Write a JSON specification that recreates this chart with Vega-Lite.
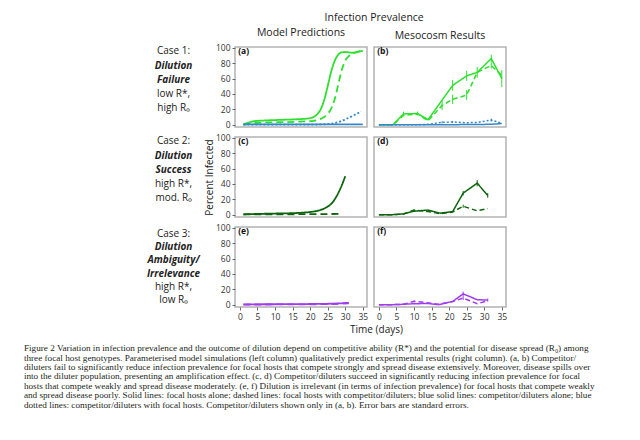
{
"$schema": "https://vega.github.io/schema/vega-lite/v6.json",
"padding": {"left": 23, "right": 5, "top": 13, "bottom": 5},
"background": "white",
"config": {
  "font": "Open Sans",
  "view": {"stroke": "#b3b3b3", "strokeWidth": 1.5},
  "axis": {"domain": false, "grid": false, "tickSize": 3, "tickColor": "#666", "labelColor": "#333", "labelFontSize": 8.5, "labelFont": "Open Sans", "titleFont": "Open Sans", "titleFontWeight": "normal", "titleFontSize": 10, "titleColor": "#222", "labelPadding": 2, "labelOverlap": false, "labelFlush": false},
  "title": {"font": "Open Sans", "fontSize": 10.5, "fontWeight": "normal", "color": "#222", "offset": 5}
},
"title": {
  "text": [
    "Figure 2 Variation in infection prevalence and the outcome of dilution depend on competitive ability (R*) and the potential for disease spread (R₀) among",
    "three focal host genotypes. Parameterised model simulations (left column) qualitatively predict experimental results (right column). (a, b) Competitor/",
    "diluters fail to significantly reduce infection prevalence for focal hosts that compete strongly and spread disease extensively. Moreover, disease spills over",
    "into the diluter population, presenting an amplification effect. (c, d) Competitor/diluters succeed in significantly reducing infection prevalence for focal",
    "hosts that compete weakly and spread disease moderately. (e, f) Dilution is irrelevant (in terms of infection prevalence) for focal hosts that compete weakly",
    "and spread disease poorly. Solid lines: focal hosts alone; dashed lines: focal hosts with competitor/diluters; blue solid lines: competitor/diluters alone; blue",
    "dotted lines: competitor/diluters with focal hosts. Competitor/diluters shown only in (a, b). Error bars are standard errors."
  ],
  "orient": "bottom", "anchor": "start", "dx": -123, "offset": 9,
  "font": "Liberation Serif", "fontSize": 9.2, "lineHeight": 9.4, "fontWeight": "normal", "color": "#231f20"
},
"datasets": {
  "cases": [
    {"case": 1, "line": 1, "text": "Case 1:", "kind": "case"},
    {"case": 1, "line": 2, "text": "Dilution", "kind": "name"},
    {"case": 1, "line": 3, "text": "Failure", "kind": "name"},
    {"case": 1, "line": 4, "text": "low R*,", "kind": "params"},
    {"case": 1, "line": 5, "text": "high R₀", "kind": "params"},
    {"case": 1, "line": 6, "text": "", "kind": "params"},
    {"case": 2, "line": 1, "text": "Case 2:", "kind": "case"},
    {"case": 2, "line": 2, "text": "Dilution", "kind": "name"},
    {"case": 2, "line": 3, "text": "Success", "kind": "name"},
    {"case": 2, "line": 4, "text": "high R*,", "kind": "params"},
    {"case": 2, "line": 5, "text": "mod. R₀", "kind": "params"},
    {"case": 2, "line": 6, "text": "", "kind": "params"},
    {"case": 3, "line": 1, "text": "Case 3:", "kind": "case"},
    {"case": 3, "line": 2, "text": "Dilution", "kind": "name"},
    {"case": 3, "line": 3, "text": "Ambiguity/", "kind": "name"},
    {"case": 3, "line": 4, "text": "Irrelevance", "kind": "name"},
    {"case": 3, "line": 5, "text": "high R*,", "kind": "params"},
    {"case": 3, "line": 6, "text": "low R₀", "kind": "params"}
  ],
  "a": [
    {"series": "focal alone", "t": 1, "y": 0.5}, {"series": "focal alone", "t": 2, "y": 2}, {"series": "focal alone", "t": 3, "y": 3.5}, {"series": "focal alone", "t": 4, "y": 4.5}, {"series": "focal alone", "t": 5, "y": 5}, {"series": "focal alone", "t": 7, "y": 5.5}, {"series": "focal alone", "t": 10, "y": 6}, {"series": "focal alone", "t": 13, "y": 6.5}, {"series": "focal alone", "t": 16, "y": 7}, {"series": "focal alone", "t": 18, "y": 7.5}, {"series": "focal alone", "t": 20, "y": 8.5}, {"series": "focal alone", "t": 21, "y": 10}, {"series": "focal alone", "t": 22, "y": 13.5}, {"series": "focal alone", "t": 23, "y": 20}, {"series": "focal alone", "t": 24, "y": 32}, {"series": "focal alone", "t": 25, "y": 50}, {"series": "focal alone", "t": 26, "y": 69}, {"series": "focal alone", "t": 27, "y": 83}, {"series": "focal alone", "t": 28, "y": 91}, {"series": "focal alone", "t": 29, "y": 94}, {"series": "focal alone", "t": 30, "y": 94.5}, {"series": "focal alone", "t": 31, "y": 94}, {"series": "focal alone", "t": 32, "y": 93.5}, {"series": "focal alone", "t": 33, "y": 94}, {"series": "focal alone", "t": 34, "y": 95}, {"series": "focal alone", "t": 35, "y": 96},
    {"series": "focal with competitors", "t": 1, "y": 0.2}, {"series": "focal with competitors", "t": 3, "y": 1.5}, {"series": "focal with competitors", "t": 5, "y": 2.5}, {"series": "focal with competitors", "t": 8, "y": 3}, {"series": "focal with competitors", "t": 12, "y": 3.3}, {"series": "focal with competitors", "t": 16, "y": 3.8}, {"series": "focal with competitors", "t": 19, "y": 4.3}, {"series": "focal with competitors", "t": 21, "y": 5}, {"series": "focal with competitors", "t": 22, "y": 6}, {"series": "focal with competitors", "t": 23, "y": 7.5}, {"series": "focal with competitors", "t": 24, "y": 10}, {"series": "focal with competitors", "t": 25, "y": 14}, {"series": "focal with competitors", "t": 26, "y": 21}, {"series": "focal with competitors", "t": 27, "y": 33}, {"series": "focal with competitors", "t": 28, "y": 52}, {"series": "focal with competitors", "t": 29, "y": 71}, {"series": "focal with competitors", "t": 30, "y": 83}, {"series": "focal with competitors", "t": 31, "y": 89}, {"series": "focal with competitors", "t": 32, "y": 92}, {"series": "focal with competitors", "t": 33, "y": 94}, {"series": "focal with competitors", "t": 34, "y": 95.5}, {"series": "focal with competitors", "t": 35, "y": 97},
    {"series": "competitor alone", "t": 1, "y": 0.5}, {"series": "competitor alone", "t": 10, "y": 0.5}, {"series": "competitor alone", "t": 20, "y": 0.5}, {"series": "competitor alone", "t": 30, "y": 0.5}, {"series": "competitor alone", "t": 35, "y": 0.5},
    {"series": "competitor with focal", "t": 1, "y": 0}, {"series": "competitor with focal", "t": 10, "y": 0}, {"series": "competitor with focal", "t": 20, "y": 0}, {"series": "competitor with focal", "t": 23, "y": 0.3}, {"series": "competitor with focal", "t": 25, "y": 0.8}, {"series": "competitor with focal", "t": 27, "y": 2}, {"series": "competitor with focal", "t": 29, "y": 5}, {"series": "competitor with focal", "t": 31, "y": 9}, {"series": "competitor with focal", "t": 33, "y": 13.5}, {"series": "competitor with focal", "t": 34.5, "y": 17}
  ],
  "b": [
    {"series": "focal alone", "t": 0, "y": 0}, {"series": "focal alone", "t": 4, "y": 0}, {"series": "focal alone", "t": 7, "y": 14}, {"series": "focal alone", "t": 11, "y": 14.5}, {"series": "focal alone", "t": 14, "y": 6.5}, {"series": "focal alone", "t": 21, "y": 51}, {"series": "focal alone", "t": 25, "y": 63.5}, {"series": "focal alone", "t": 28, "y": 68}, {"series": "focal alone", "t": 32, "y": 86}, {"series": "focal alone", "t": 35, "y": 60},
    {"series": "focal with competitors", "t": 0, "y": 0}, {"series": "focal with competitors", "t": 4, "y": 0}, {"series": "focal with competitors", "t": 7, "y": 12}, {"series": "focal with competitors", "t": 11, "y": 14}, {"series": "focal with competitors", "t": 14, "y": 5}, {"series": "focal with competitors", "t": 18, "y": 25}, {"series": "focal with competitors", "t": 21, "y": 33}, {"series": "focal with competitors", "t": 25, "y": 38.5}, {"series": "focal with competitors", "t": 28, "y": 68}, {"series": "focal with competitors", "t": 32, "y": 77}, {"series": "focal with competitors", "t": 35, "y": 64},
    {"series": "competitor alone", "t": 0, "y": 0}, {"series": "competitor alone", "t": 14, "y": 0}, {"series": "competitor alone", "t": 21, "y": 0}, {"series": "competitor alone", "t": 28, "y": 0.3}, {"series": "competitor alone", "t": 32, "y": 0.5}, {"series": "competitor alone", "t": 35, "y": 1.5},
    {"series": "competitor with focal", "t": 0, "y": 0}, {"series": "competitor with focal", "t": 4, "y": 0}, {"series": "competitor with focal", "t": 7, "y": 0}, {"series": "competitor with focal", "t": 11, "y": 0}, {"series": "competitor with focal", "t": 14, "y": 0.5}, {"series": "competitor with focal", "t": 18, "y": 3}, {"series": "competitor with focal", "t": 21, "y": 3.5}, {"series": "competitor with focal", "t": 25, "y": 2.5}, {"series": "competitor with focal", "t": 28, "y": 3}, {"series": "competitor with focal", "t": 32, "y": 6}, {"series": "competitor with focal", "t": 35, "y": 2}
  ],
  "b_err": [
    {"series": "focal alone", "t": 7, "lo": 11, "hi": 17}, {"series": "focal alone", "t": 11, "lo": 12, "hi": 17}, {"series": "focal alone", "t": 21, "lo": 44, "hi": 58}, {"series": "focal alone", "t": 25, "lo": 57, "hi": 70}, {"series": "focal alone", "t": 28, "lo": 61, "hi": 75}, {"series": "focal alone", "t": 32, "lo": 81, "hi": 91}, {"series": "focal alone", "t": 35, "lo": 49, "hi": 71},
    {"series": "focal with competitors", "t": 18, "lo": 19, "hi": 31}, {"series": "focal with competitors", "t": 21, "lo": 27, "hi": 39}, {"series": "focal with competitors", "t": 25, "lo": 32, "hi": 45}, {"series": "focal with competitors", "t": 32, "lo": 73, "hi": 81},
    {"series": "competitor with focal", "t": 18, "lo": 1.5, "hi": 4.5}, {"series": "competitor with focal", "t": 21, "lo": 2, "hi": 5}, {"series": "competitor with focal", "t": 32, "lo": 4, "hi": 8}
  ],
  "c": [
    {"series": "focal alone", "t": 1, "y": 0.5}, {"series": "focal alone", "t": 5, "y": 1}, {"series": "focal alone", "t": 10, "y": 1.5}, {"series": "focal alone", "t": 15, "y": 2}, {"series": "focal alone", "t": 18, "y": 2.7}, {"series": "focal alone", "t": 20, "y": 3.5}, {"series": "focal alone", "t": 22, "y": 5}, {"series": "focal alone", "t": 23, "y": 6.3}, {"series": "focal alone", "t": 24, "y": 8}, {"series": "focal alone", "t": 25, "y": 10.5}, {"series": "focal alone", "t": 26, "y": 14}, {"series": "focal alone", "t": 27, "y": 20}, {"series": "focal alone", "t": 28, "y": 28}, {"series": "focal alone", "t": 29, "y": 38}, {"series": "focal alone", "t": 30, "y": 50},
    {"series": "focal with competitors", "t": 1, "y": 0.3}, {"series": "focal with competitors", "t": 10, "y": 0.5}, {"series": "focal with competitors", "t": 20, "y": 0.7}, {"series": "focal with competitors", "t": 29, "y": 1}
  ],
  "d": [
    {"series": "focal alone", "t": 0, "y": 0}, {"series": "focal alone", "t": 4, "y": 0}, {"series": "focal alone", "t": 7, "y": 1}, {"series": "focal alone", "t": 10, "y": 4.5}, {"series": "focal alone", "t": 14, "y": 6}, {"series": "focal alone", "t": 17.5, "y": 2}, {"series": "focal alone", "t": 21, "y": 4}, {"series": "focal alone", "t": 24, "y": 28}, {"series": "focal alone", "t": 28, "y": 41}, {"series": "focal alone", "t": 31, "y": 25},
    {"series": "focal with competitors", "t": 0, "y": 0}, {"series": "focal with competitors", "t": 4, "y": 0}, {"series": "focal with competitors", "t": 7, "y": 1}, {"series": "focal with competitors", "t": 10, "y": 6}, {"series": "focal with competitors", "t": 14, "y": 4}, {"series": "focal with competitors", "t": 17.5, "y": 1.3}, {"series": "focal with competitors", "t": 21, "y": 3.5}, {"series": "focal with competitors", "t": 24, "y": 11}, {"series": "focal with competitors", "t": 28, "y": 5}, {"series": "focal with competitors", "t": 31, "y": 8}
  ],
  "d_err": [
    {"series": "focal alone", "t": 24, "lo": 25, "hi": 31}, {"series": "focal alone", "t": 28, "lo": 37, "hi": 45}, {"series": "focal alone", "t": 31, "lo": 22, "hi": 28},
    {"series": "focal with competitors", "t": 24, "lo": 9, "hi": 13}
  ],
  "e": [
    {"series": "focal alone", "t": 1, "y": 0.5}, {"series": "focal alone", "t": 10, "y": 0.6}, {"series": "focal alone", "t": 20, "y": 0.9}, {"series": "focal alone", "t": 25, "y": 1.2}, {"series": "focal alone", "t": 28, "y": 1.6}, {"series": "focal alone", "t": 31, "y": 2.5},
    {"series": "focal with competitors", "t": 1, "y": 0.2}, {"series": "focal with competitors", "t": 10, "y": 0.3}, {"series": "focal with competitors", "t": 20, "y": 0.5}, {"series": "focal with competitors", "t": 25, "y": 0.8}, {"series": "focal with competitors", "t": 28, "y": 1.2}, {"series": "focal with competitors", "t": 31, "y": 1.8}
  ],
  "f": [
    {"series": "focal alone", "t": 0, "y": 0}, {"series": "focal alone", "t": 4, "y": 0}, {"series": "focal alone", "t": 7, "y": 0.5}, {"series": "focal alone", "t": 10, "y": 1.3}, {"series": "focal alone", "t": 14, "y": 1.5}, {"series": "focal alone", "t": 17, "y": 0}, {"series": "focal alone", "t": 21, "y": 4.3}, {"series": "focal alone", "t": 24, "y": 14}, {"series": "focal alone", "t": 28, "y": 6.5}, {"series": "focal alone", "t": 31, "y": 6},
    {"series": "focal with competitors", "t": 0, "y": 0}, {"series": "focal with competitors", "t": 4, "y": 0}, {"series": "focal with competitors", "t": 7, "y": 0.5}, {"series": "focal with competitors", "t": 10, "y": 4.3}, {"series": "focal with competitors", "t": 13, "y": 3}, {"series": "focal with competitors", "t": 17, "y": 0.5}, {"series": "focal with competitors", "t": 21, "y": 4}, {"series": "focal with competitors", "t": 24, "y": 8.6}, {"series": "focal with competitors", "t": 28, "y": 1.3}, {"series": "focal with competitors", "t": 31, "y": 5}
  ],
  "f_err": [
    {"series": "focal alone", "t": 24, "lo": 11, "hi": 17}, {"series": "focal alone", "t": 31, "lo": 4, "hi": 8},
    {"series": "focal with competitors", "t": 10, "lo": 3, "hi": 6}, {"series": "focal with competitors", "t": 24, "lo": 6, "hi": 11}
  ]
},
"vconcat": [
{
  "title": {"text": "Infection Prevalence", "anchor": "middle", "dx": 47, "offset": 4},
  "columns": 3,
  "bounds": "flush",
  "spacing": {"row": 10, "column": 7},
  "resolve": {"scale": {"color": "independent", "strokeDash": "independent"}},
  "concat": [
    {
      "width": 77, "height": 80, "view": {"stroke": null},
      "data": {"name": "cases"},
      "transform": [{"filter": "datum.case == 1"}],
      "layer": [
        {"transform": [{"filter": "datum.kind != 'name'"}], "mark": {"type": "text", "dx": -16, "fontSize": 10, "font": "Open Sans", "color": "#222", "baseline": "middle"},
         "encoding": {"y": {"field": "line", "type": "ordinal", "scale": {"type": "point", "padding": 0.3}, "axis": null}, "text": {"field": "text"}}},
        {"transform": [{"filter": "datum.kind == 'name'"}], "mark": {"type": "text", "dx": -16, "fontSize": 10, "font": "Open Sans", "fontWeight": "bold", "fontStyle": "italic", "color": "#222", "baseline": "middle"},
         "encoding": {"y": {"field": "line", "type": "ordinal", "scale": {"type": "point", "padding": 0.3}, "axis": null}, "text": {"field": "text"}}}
      ]
    },
    {
      "width": 132, "height": 80,
      "title": "Model Predictions",
      "layer": [
        {"data": {"name": "a"}, "mark": {"type": "line", "interpolate": "monotone", "strokeWidth": 1.8},
         "encoding": {
           "x": {"field": "t", "type": "quantitative", "scale": {"domain": [-1.4, 36.2], "nice": false, "zero": false}, "axis": null},
           "y": {"field": "y", "type": "quantitative", "scale": {"domain": [-3, 101], "nice": false}, "axis": {"values": [0, 20, 40, 60, 80, 100], "title": null}},
           "color": {"field": "series", "type": "nominal", "scale": {"domain": ["focal alone", "focal with competitors", "competitor alone", "competitor with focal"], "range": ["#2ee02e", "#2ee02e", "#3388cc", "#3388cc"]}, "legend": null},
           "strokeDash": {"field": "series", "type": "nominal", "scale": {"domain": ["focal alone", "focal with competitors", "competitor alone", "competitor with focal"], "range": [[1, 0], [7, 4], [1, 0], [2, 2]]}, "legend": null}
         }},
        {"data": {"values": [{}]}, "mark": {"type": "text", "text": "(a)", "align": "left", "baseline": "middle", "fontWeight": "bold", "fontSize": 8.5, "color": "#111"},
         "encoding": {"x": {"datum": -0.5, "axis": null}, "y": {"datum": 96, "axis": {"values": [0, 20, 40, 60, 80, 100], "title": null}}}}
      ]
    },
    {
      "width": 132, "height": 80,
      "title": "Mesocosm Results",
      "layer": [
        {"data": {"name": "b"}, "mark": {"type": "line", "strokeWidth": 1.5},
         "encoding": {
           "x": {"field": "t", "type": "quantitative", "scale": {"domain": [-1.4, 36.2], "nice": false, "zero": false}, "axis": null},
           "y": {"field": "y", "type": "quantitative", "scale": {"domain": [-3, 101], "nice": false}, "axis": null},
           "color": {"field": "series", "type": "nominal", "scale": {"domain": ["focal alone", "focal with competitors", "competitor alone", "competitor with focal"], "range": ["#2ee02e", "#2ee02e", "#3388cc", "#3388cc"]}, "legend": null},
           "strokeDash": {"field": "series", "type": "nominal", "scale": {"domain": ["focal alone", "focal with competitors", "competitor alone", "competitor with focal"], "range": [[1, 0], [5, 3], [1, 0], [2, 2]]}, "legend": null}
         }},
        {"data": {"name": "b_err"}, "mark": {"type": "rule", "strokeWidth": 1},
         "encoding": {
           "x": {"field": "t", "type": "quantitative", "axis": null},
           "y": {"field": "lo", "type": "quantitative", "axis": null}, "y2": {"field": "hi"},
           "color": {"field": "series", "type": "nominal", "legend": null}
         }},
        {"data": {"values": [{}]}, "mark": {"type": "text", "text": "(b)", "align": "left", "baseline": "middle", "fontWeight": "bold", "fontSize": 8.5, "color": "#111"},
         "encoding": {"x": {"datum": -0.5, "axis": null}, "y": {"datum": 96, "axis": null}}}
      ]
    },
    {
      "width": 77, "height": 80, "view": {"stroke": null},
      "data": {"name": "cases"},
      "transform": [{"filter": "datum.case == 2"}],
      "layer": [
        {"transform": [{"filter": "datum.kind != 'name'"}], "mark": {"type": "text", "dx": -16, "fontSize": 10, "font": "Open Sans", "color": "#222", "baseline": "middle"},
         "encoding": {"y": {"field": "line", "type": "ordinal", "scale": {"type": "point", "padding": 0.3}, "axis": null}, "text": {"field": "text"}}},
        {"transform": [{"filter": "datum.kind == 'name'"}], "mark": {"type": "text", "dx": -16, "fontSize": 10, "font": "Open Sans", "fontWeight": "bold", "fontStyle": "italic", "color": "#222", "baseline": "middle"},
         "encoding": {"y": {"field": "line", "type": "ordinal", "scale": {"type": "point", "padding": 0.3}, "axis": null}, "text": {"field": "text"}}}
      ]
    },
    {
      "width": 132, "height": 80,
      "layer": [
        {"data": {"name": "c"}, "mark": {"type": "line", "interpolate": "monotone", "strokeWidth": 1.8},
         "encoding": {
           "x": {"field": "t", "type": "quantitative", "scale": {"domain": [-1.4, 36.2], "nice": false, "zero": false}, "axis": null},
           "y": {"field": "y", "type": "quantitative", "scale": {"domain": [-3, 101], "nice": false}, "axis": {"values": [0, 20, 40, 60, 80, 100], "title": "Percent Infected", "titlePadding": 1}},
           "color": {"field": "series", "type": "nominal", "scale": {"domain": ["focal alone", "focal with competitors"], "range": ["#0c640c", "#0c640c"]}, "legend": null},
           "strokeDash": {"field": "series", "type": "nominal", "scale": {"domain": ["focal alone", "focal with competitors"], "range": [[1, 0], [7, 4]]}, "legend": null}
         }},
        {"data": {"values": [{}]}, "mark": {"type": "text", "text": "(c)", "align": "left", "baseline": "middle", "fontWeight": "bold", "fontSize": 8.5, "color": "#111"},
         "encoding": {"x": {"datum": -0.5, "axis": null}, "y": {"datum": 96, "axis": {"values": [0, 20, 40, 60, 80, 100], "title": "Percent Infected", "titlePadding": 1}}}}
      ]
    },
    {
      "width": 132, "height": 80,
      "layer": [
        {"data": {"name": "d"}, "mark": {"type": "line", "strokeWidth": 1.5},
         "encoding": {
           "x": {"field": "t", "type": "quantitative", "scale": {"domain": [-1.4, 36.2], "nice": false, "zero": false}, "axis": null},
           "y": {"field": "y", "type": "quantitative", "scale": {"domain": [-3, 101], "nice": false}, "axis": null},
           "color": {"field": "series", "type": "nominal", "scale": {"domain": ["focal alone", "focal with competitors"], "range": ["#0c640c", "#0c640c"]}, "legend": null},
           "strokeDash": {"field": "series", "type": "nominal", "scale": {"domain": ["focal alone", "focal with competitors"], "range": [[1, 0], [5, 3]]}, "legend": null}
         }},
        {"data": {"name": "d_err"}, "mark": {"type": "rule", "strokeWidth": 1},
         "encoding": {
           "x": {"field": "t", "type": "quantitative", "axis": null},
           "y": {"field": "lo", "type": "quantitative", "axis": null}, "y2": {"field": "hi"},
           "color": {"field": "series", "type": "nominal", "legend": null}
         }},
        {"data": {"values": [{}]}, "mark": {"type": "text", "text": "(d)", "align": "left", "baseline": "middle", "fontWeight": "bold", "fontSize": 8.5, "color": "#111"},
         "encoding": {"x": {"datum": -0.5, "axis": null}, "y": {"datum": 96, "axis": null}}}
      ]
    },
    {
      "width": 77, "height": 80, "view": {"stroke": null},
      "data": {"name": "cases"},
      "transform": [{"filter": "datum.case == 3"}],
      "layer": [
        {"transform": [{"filter": "datum.kind != 'name'"}], "mark": {"type": "text", "dx": -16, "fontSize": 10, "font": "Open Sans", "color": "#222", "baseline": "middle"},
         "encoding": {"y": {"field": "line", "type": "ordinal", "scale": {"type": "point", "padding": 0.55}, "axis": null}, "text": {"field": "text"}}},
        {"transform": [{"filter": "datum.kind == 'name'"}], "mark": {"type": "text", "dx": -16, "fontSize": 10, "font": "Open Sans", "fontWeight": "bold", "fontStyle": "italic", "color": "#222", "baseline": "middle"},
         "encoding": {"y": {"field": "line", "type": "ordinal", "scale": {"type": "point", "padding": 0.55}, "axis": null}, "text": {"field": "text"}}}
      ]
    },
    {
      "width": 132, "height": 80,
      "layer": [
        {"data": {"name": "e"}, "mark": {"type": "line", "interpolate": "monotone", "strokeWidth": 1.8},
         "encoding": {
           "x": {"field": "t", "type": "quantitative", "scale": {"domain": [-1.4, 36.2], "nice": false, "zero": false}, "axis": {"values": [0, 5, 10, 15, 20, 25, 30, 35], "title": "Time (days)", "titleX": 141}},
           "y": {"field": "y", "type": "quantitative", "scale": {"domain": [-3, 101], "nice": false}, "axis": {"values": [0, 20, 40, 60, 80, 100], "title": null}},
           "color": {"field": "series", "type": "nominal", "scale": {"domain": ["focal alone", "focal with competitors"], "range": ["#a03cf0", "#a03cf0"]}, "legend": null},
           "strokeDash": {"field": "series", "type": "nominal", "scale": {"domain": ["focal alone", "focal with competitors"], "range": [[1, 0], [7, 4]]}, "legend": null}
         }},
        {"data": {"values": [{}]}, "mark": {"type": "text", "text": "(e)", "align": "left", "baseline": "middle", "fontWeight": "bold", "fontSize": 8.5, "color": "#111"},
         "encoding": {"x": {"datum": -0.5, "axis": {"values": [0, 5, 10, 15, 20, 25, 30, 35], "title": "Time (days)", "titleX": 141}}, "y": {"datum": 96, "axis": {"values": [0, 20, 40, 60, 80, 100], "title": null}}}}
      ]
    },
    {
      "width": 132, "height": 80,
      "layer": [
        {"data": {"name": "f"}, "mark": {"type": "line", "strokeWidth": 1.5},
         "encoding": {
           "x": {"field": "t", "type": "quantitative", "scale": {"domain": [-1.4, 36.2], "nice": false, "zero": false}, "axis": {"values": [0, 5, 10, 15, 20, 25, 30, 35], "title": null}},
           "y": {"field": "y", "type": "quantitative", "scale": {"domain": [-3, 101], "nice": false}, "axis": null},
           "color": {"field": "series", "type": "nominal", "scale": {"domain": ["focal alone", "focal with competitors"], "range": ["#a03cf0", "#a03cf0"]}, "legend": null},
           "strokeDash": {"field": "series", "type": "nominal", "scale": {"domain": ["focal alone", "focal with competitors"], "range": [[1, 0], [5, 3]]}, "legend": null}
         }},
        {"data": {"name": "f_err"}, "mark": {"type": "rule", "strokeWidth": 1},
         "encoding": {
           "x": {"field": "t", "type": "quantitative", "axis": {"values": [0, 5, 10, 15, 20, 25, 30, 35], "title": null}},
           "y": {"field": "lo", "type": "quantitative", "axis": null}, "y2": {"field": "hi"},
           "color": {"field": "series", "type": "nominal", "legend": null}
         }},
        {"data": {"values": [{}]}, "mark": {"type": "text", "text": "(f)", "align": "left", "baseline": "middle", "fontWeight": "bold", "fontSize": 8.5, "color": "#111"},
         "encoding": {"x": {"datum": -0.5, "axis": {"values": [0, 5, 10, 15, 20, 25, 30, 35], "title": null}}, "y": {"datum": 96, "axis": null}}}
      ]
    }
  ]
}
]
}
